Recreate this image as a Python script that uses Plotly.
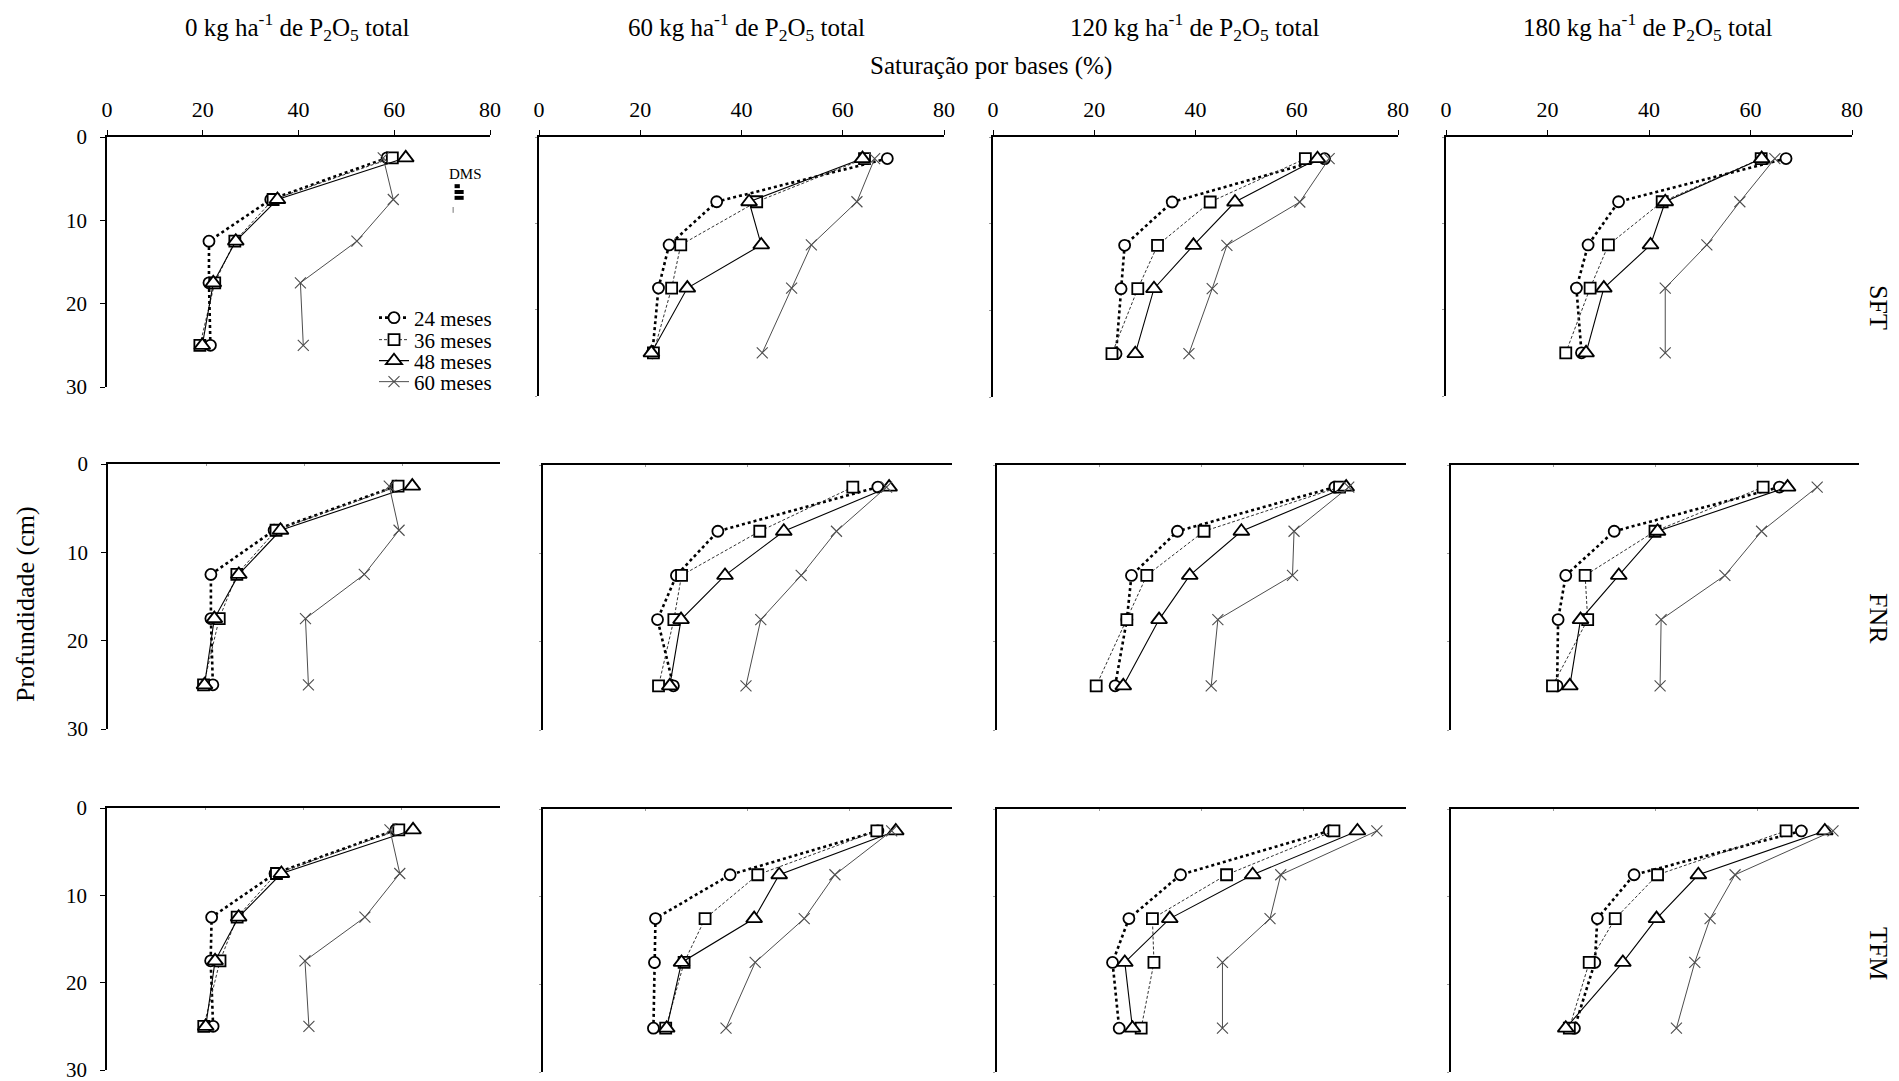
import plotly.graph_objects as go

W, H = 1899, 1081
FONT = "Liberation Serif, Times New Roman, serif"

DEPTHS = [2.5, 7.5, 12.5, 17.5, 25]
PERIODS = ["24 meses", "36 meses", "48 meses", "60 meses"]
DOSES = ["0", "60", "120", "180"]
SOURCES = ["SFT", "FNR", "TFM"]
X_TICKS = [0, 20, 40, 60, 80]
Y_TICKS = [0, 10, 20, 30]

# Saturação por bases (%) per depth; rows: 24, 36, 48, 60 meses
SFT_P0 = [
    [58.5, 34.2, 21.3, 21.3, 21.6],
    [59.6, 34.7, 26.7, 22.5, 19.4],
    [62.4, 35.6, 26.9, 22.2, 19.9],
    [57.7, 59.8, 52.2, 40.4, 41.0],
]
SFT_P60 = [
    [68.8, 35.1, 25.7, 23.6, 22.4],
    [64.3, 43.0, 28.0, 26.2, 22.6],
    [63.9, 41.5, 43.9, 29.3, 22.2],
    [66.3, 62.8, 53.8, 49.9, 44.1],
]
SFT_P120 = [
    [65.5, 35.4, 26.0, 25.3, 24.3],
    [61.7, 42.9, 32.5, 28.6, 23.5],
    [64.1, 47.8, 39.6, 31.8, 28.1],
    [66.4, 60.6, 46.2, 43.3, 38.7],
]
SFT_P180 = [
    [67.0, 34.0, 28.0, 25.7, 26.7],
    [62.1, 42.6, 32.0, 28.4, 23.6],
    [62.2, 43.2, 40.3, 31.1, 27.6],
    [64.8, 57.9, 51.4, 43.2, 43.2],
]
FNR_P0 = [
    [58.8, 33.9, 21.0, 21.0, 21.4],
    [59.2, 34.3, 26.3, 22.7, 19.5],
    [62.1, 35.2, 26.7, 21.7, 19.7],
    [57.4, 59.4, 52.3, 40.3, 40.9],
]
FNR_P60 = [
    [65.5, 34.2, 26.1, 22.4, 25.5],
    [60.6, 42.4, 27.1, 25.6, 22.6],
    [67.7, 47.1, 35.6, 27.0, 24.8],
    [67.2, 57.4, 50.5, 42.6, 39.7],
]
FNR_P120 = [
    [66.1, 35.3, 26.3, 25.4, 23.1],
    [67.0, 40.5, 29.3, 25.4, 19.4],
    [68.3, 47.8, 37.7, 31.7, 24.7],
    [68.8, 58.1, 57.8, 43.2, 41.9],
]
FNR_P180 = [
    [64.4, 32.0, 22.5, 21.0, 20.8],
    [61.2, 40.0, 26.3, 26.8, 19.9],
    [66.0, 40.5, 32.9, 25.4, 23.3],
    [71.8, 60.9, 53.7, 41.2, 41.0],
]
TFM_P0 = [
    [58.8, 34.2, 21.3, 21.1, 21.6],
    [59.4, 34.5, 26.5, 23.0, 19.7],
    [62.3, 35.5, 26.8, 22.0, 20.1],
    [57.6, 59.6, 52.5, 40.3, 41.1],
]
TFM_P60 = [
    [65.5, 36.6, 22.0, 21.8, 21.6],
    [65.3, 42.0, 31.7, 27.6, 24.0],
    [69.0, 46.2, 41.3, 27.1, 24.2],
    [68.2, 57.1, 51.1, 41.5, 35.8],
]
TFM_P120 = [
    [65.0, 35.9, 25.8, 22.6, 23.9],
    [65.9, 44.9, 30.4, 30.7, 28.2],
    [70.5, 50.0, 33.8, 25.0, 26.5],
    [74.3, 55.5, 53.4, 44.1, 44.1],
]
TFM_P180 = [
    [68.7, 35.9, 28.7, 28.2, 24.2],
    [65.7, 40.5, 32.2, 27.1, 23.2],
    [73.3, 48.5, 40.3, 33.7, 22.5],
    [74.9, 55.7, 50.8, 47.8, 44.2],
]

# DMS (least significant difference) bars, first panel
DMS_START = 72.6
DMS_VALUES = [1.1, 1.9, 1.9]
DMS_ROWS = [5.9, 6.6, 7.3]

PANELS = [
    [SFT_P0, SFT_P60, SFT_P120, SFT_P180],
    [FNR_P0, FNR_P60, FNR_P120, FNR_P180],
    [TFM_P0, TFM_P60, TFM_P120, TFM_P180],
]

# panel boxes in pixels (x0, x1), (y_top, y_bottom)
PANEL_X = [
    [(107, 490), (539, 944), (993, 1398), (1446, 1852)],
    [(108, 500), (543, 952), (997, 1406), (1451, 1859)],
    [(107, 500), (543, 952), (997, 1406), (1451, 1859)],
]
PANEL_Y = [
    [(137, 387), (137, 396), (137, 397), (137, 396)],
    [(464, 729), (465, 730), (465, 730), (465, 730)],
    [(808, 1070), (809, 1072), (809, 1072), (809, 1072)],
]

STYLES = [
    dict(line=dict(color="black", width=2.6, dash="dot"),
         marker=dict(symbol="circle", size=11, color="white", line=dict(color="black", width=1.8))),
    dict(line=dict(color="#333333", width=1.0, dash="3px,2px"),
         marker=dict(symbol="square", size=11, color="white", line=dict(color="black", width=1.8))),
    dict(line=dict(color="black", width=1.1),
         marker=dict(symbol="triangle-up", size=14, color="white", line=dict(color="black", width=1.8))),
    dict(line=dict(color="#4d4d4d", width=1.0),
         marker=dict(symbol="x-thin", size=11, color="#4d4d4d", line=dict(color="#4d4d4d", width=1.1))),
]


def px_x(v):
    return v / W


def px_y(v):
    return 1 - v / H


fig = go.Figure()
layout = dict(
    width=W, height=H, margin=dict(l=0, r=0, t=0, b=0, autoexpand=False),
    paper_bgcolor="white", plot_bgcolor="white",
    font=dict(family=FONT, color="black", size=20),
)

LEGEND_Y = [318, 340, 361, 382]

for r in range(3):
    for c in range(4):
        n = r * 4 + c + 1
        sfx = "" if n == 1 else str(n)
        x0, x1 = PANEL_X[r][c]
        yt, yb = PANEL_Y[r][c]
        xa = dict(
            domain=[px_x(x0), px_x(x1)], range=[0, 80], anchor="y" + sfx, side="top",
            showline=True, linecolor="black", linewidth=1.5, showgrid=False, zeroline=False,
            tickvals=X_TICKS, fixedrange=True, automargin=False,
        )
        if r == 0:
            xa.update(showticklabels=True, ticks="outside", ticklen=5, tickwidth=1.3,
                      tickcolor="black", tickfont=dict(family=FONT, size=22, color="black"),
                      ticklabelstandoff=4, ticklabeloverflow="allow")
        else:
            xa.update(showticklabels=False, ticks="inside", ticklen=2, tickwidth=1,
                      tickcolor="#999999")
        ya = dict(
            domain=[px_y(yb), px_y(yt)], range=[30, 0], anchor="x" + sfx,
            showline=True, linecolor="black", linewidth=1.5, showgrid=False, zeroline=False,
            tickvals=Y_TICKS, fixedrange=True, automargin=False,
        )
        if c == 0:
            ya.update(showticklabels=True, ticks="outside", ticklen=5, tickwidth=1.3,
                      tickcolor="black", tickfont=dict(family=FONT, size=21, color="black"),
                      ticklabelstandoff=9, ticklabeloverflow="allow")
        else:
            ya.update(showticklabels=False, ticks="outside", ticklen=2, tickwidth=1,
                      tickcolor="#999999")
        layout["xaxis" + sfx] = xa
        layout["yaxis" + sfx] = ya

        data = PANELS[r][c]
        for k, period in enumerate(PERIODS):
            st = STYLES[k]
            show = (n == 1)
            tr = go.Scatter(
                x=data[k], y=DEPTHS, mode="lines+markers", name=period,
                line=st["line"], marker=st["marker"],
                xaxis="x" + sfx, yaxis="y" + sfx,
                showlegend=show, hoverinfo="skip",
            )
            if show:
                tr.update(legend="legend" if k == 0 else "legend%d" % (k + 1))
            fig.add_trace(tr)

# DMS bars in the first panel
dx, dy = [], []
for v, d in zip(DMS_VALUES, DMS_ROWS):
    dx += [DMS_START, DMS_START + v, None]
    dy += [d, d, None]
fig.add_trace(go.Scatter(x=dx, y=dy, mode="lines", line=dict(color="black", width=4),
                         xaxis="x", yaxis="y", showlegend=False, hoverinfo="skip"))
fig.add_trace(go.Scatter(x=[DMS_START - 0.3, DMS_START - 0.3], y=[8.4, 9.1], mode="lines",
                         line=dict(color="#777777", width=1), xaxis="x", yaxis="y",
                         showlegend=False, hoverinfo="skip"))

# legends
for k in range(4):
    key = "legend" if k == 0 else "legend%d" % (k + 1)
    layout[key] = dict(
        x=px_x(374), y=px_y(LEGEND_Y[k]), xanchor="left", yanchor="middle",
        bgcolor="rgba(0,0,0,0)", borderwidth=0,
        font=dict(family=FONT, size=21, color="black"),
        tracegroupgap=0, itemclick=False, itemdoubleclick=False,
    )

ann = []
TITLE_X = [297, 746, 1194, 1647]
for c, dose in enumerate(DOSES):
    ann.append(dict(
        text="%s kg ha<sup>-1</sup> de P<sub>2</sub>O<sub>5</sub> total" % dose,
        x=px_x(TITLE_X[c]), y=px_y(27), xref="paper", yref="paper",
        xanchor="center", yanchor="middle", showarrow=False,
        font=dict(family=FONT, size=25, color="black"),
    ))
ann.append(dict(text="Saturação por bases (%)", x=px_x(991), y=px_y(66),
                xref="paper", yref="paper", xanchor="center", yanchor="middle",
                showarrow=False, font=dict(family=FONT, size=25, color="black")))
ann.append(dict(text="Profundidade (cm)", x=px_x(25), y=px_y(604), textangle=-90,
                xref="paper", yref="paper", xanchor="center", yanchor="middle",
                showarrow=False, font=dict(family=FONT, size=26, color="black")))
ROW_LABEL_Y = [307, 618, 953]
for r, s in enumerate(SOURCES):
    ann.append(dict(text=s, x=px_x(1879), y=px_y(ROW_LABEL_Y[r]), textangle=90,
                    xref="paper", yref="paper", xanchor="center", yanchor="middle",
                    showarrow=False, font=dict(family=FONT, size=26, color="black")))
ann.append(dict(text="DMS", x=px_x(465), y=px_y(174), xref="paper", yref="paper",
                xanchor="center", yanchor="middle", showarrow=False,
                font=dict(family=FONT, size=15, color="black")))
layout["annotations"] = ann

fig.update_layout(**layout)
fig.write_html("out.html", config={"displayModeBar": False})
